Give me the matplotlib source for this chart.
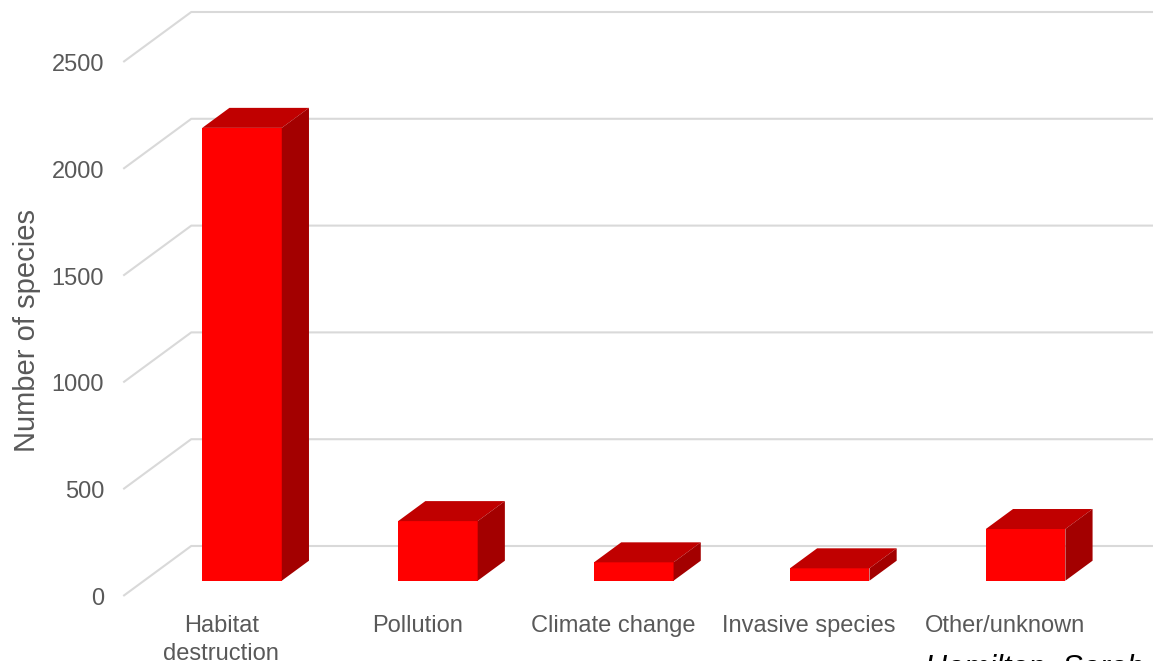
import matplotlib.pyplot as plt
from matplotlib.patches import Polygon

plt.rcParams['font.family'] = ['Liberation Sans', 'DejaVu Sans']

categories = ['Habitat\ndestruction', 'Pollution', 'Climate change', 'Invasive species', 'Other/unknown']
species = [2120, 279, 86, 58, 242]
yticks = [0, 500, 1000, 1500, 2000, 2500]
source = 'Hamilton, Sarah'

# pixel layout of the reference (front plane)
X0_PX, X_STEP = 221.2, 195.9       # centre of category 0, px per category
Y0_PX, Y_SCALE = 596.0, 0.2136     # zero line, px per species
W, H = 1153, 661

def px2x(px):
    return (px - X0_PX) / X_STEP

def px2y(py):
    return (Y0_PX - py) / Y_SCALE

# oblique offset of one unit of depth
DX = 68 / X_STEP
DY = 50 / Y_SCALE

fig = plt.figure(figsize=(W / 100, H / 100), dpi=100)
ax = fig.add_axes([0, 0, 1, 1])
ax.set_xlim(px2x(0), px2x(W))
ax.set_ylim(px2y(H), px2y(0))
ax.axis('off')

grid_c = '#d9d9d9'
text_c = '#595959'

# floor/back wall gridlines
for v in yticks:
    ax.plot([-0.5, -0.5 + DX, px2x(W + 10)], [v, v + DY, v + DY],
            color=grid_c, lw=1.5, zorder=1, solid_capstyle='butt')
    ax.text(px2x(104), v - 3 / Y_SCALE, str(v), ha='right', va='center',
            fontsize=17, color=text_c)

# 3d-ish bars
d0, dd = 0.306, 0.4
w = 0.406
for i, v in enumerate(species):
    xl = i - w / 2 + d0 * DX
    xr = xl + w
    yb = d0 * DY
    ax.bar(xl, v, width=w, bottom=yb, align='edge', color='#ff0000',
           zorder=3, linewidth=0)
    top = [(xl, yb + v), (xr, yb + v), (xr + dd * DX, yb + v + dd * DY),
           (xl + dd * DX, yb + v + dd * DY)]
    side = [(xr, yb), (xr, yb + v), (xr + dd * DX, yb + v + dd * DY),
            (xr + dd * DX, yb + dd * DY)]
    ax.add_patch(Polygon(top, closed=True, fc='#c00000', ec='none', zorder=3))
    ax.add_patch(Polygon(side, closed=True, fc='#a30000', ec='none', zorder=3))

for i, c in enumerate(categories):
    ax.text(i, px2y(615), c, ha='center', va='top', fontsize=17,
            color=text_c, linespacing=1.35)

ax.text(px2x(27), px2y(330), 'Number of species', rotation=90,
        ha='center', va='center', fontsize=21, color=text_c)

# source note, cut off by the bottom edge like in the original
ax.text(px2x(925), px2y(677), source, ha='left', va='baseline',
        fontsize=22, style='italic', color='black')

fig.savefig('out.png', dpi=100)
